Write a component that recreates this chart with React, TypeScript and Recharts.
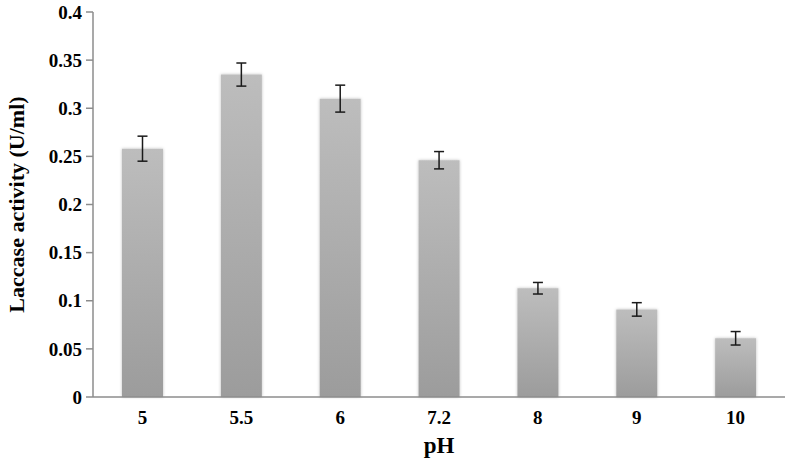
import { BarChart, Bar, XAxis, YAxis, ErrorBar } from "recharts";

const phLabels = ["5", "5.5", "6", "7.2", "8", "9", "10"];
const activity = [0.258, 0.335, 0.31, 0.246, 0.113, 0.091, 0.061];
const errors = [0.013, 0.012, 0.014, 0.009, 0.006, 0.007, 0.007];
const yTicks = [0, 0.05, 0.1, 0.15, 0.2, 0.25, 0.3, 0.35, 0.4];
const boundaryTicks = [0, 1, 2, 3, 4, 5, 6, 7];

const data = phLabels.map((ph, i) => ({ ph, activity: activity[i], err: errors[i] }));

const font = "'Liberation Serif', 'Times New Roman', serif";
const axisGray = "#8c8c8c";

export default function App() {
  return (
    <div style={{ position: "absolute", left: 0, top: 0 }}>
      <BarChart
        width={786}
        height={465}
        data={data}
        margin={{ top: 12, right: 1, left: 0, bottom: 0 }}
        barSize={41}
      >
        <defs>
          <linearGradient id="barFill" x1="0" y1="0" x2="0" y2="1">
            <stop offset="0%" stopColor="#bdbdbd" />
            <stop offset="100%" stopColor="#9c9c9c" />
          </linearGradient>
          <filter id="barShadow" x="-20%" y="-5%" width="140%" height="110%">
            <feDropShadow dx="0" dy="0" stdDeviation="1.5" floodColor="#000" floodOpacity="0.25" />
          </filter>
        </defs>
        <XAxis
          dataKey="ph"
          height={68}
          axisLine={{ stroke: axisGray, strokeWidth: 1.5 }}
          tickLine={false}
          tickMargin={8}
          tick={{ fill: "#000", fontFamily: font, fontWeight: "bold", fontSize: 19 }}
          label={{
            value: "pH",
            position: "insideBottom",
            offset: 12,
            style: { fill: "#000", fontFamily: font, fontWeight: "bold", fontSize: 23 },
          }}
        />
        <XAxis
          xAxisId="edge"
          type="number"
          domain={[0, 7]}
          ticks={boundaryTicks}
          tick={false}
          axisLine={false}
          tickLine={{ stroke: axisGray, strokeWidth: 1.5 }}
          tickSize={7}
          height={0}
        />
        <YAxis
          width={93}
          domain={[0, 0.4]}
          ticks={yTicks}
          axisLine={{ stroke: axisGray, strokeWidth: 1.5 }}
          tickLine={{ stroke: axisGray, strokeWidth: 1.5 }}
          tickSize={7}
          tickMargin={4}
          tick={{ fill: "#000", fontFamily: font, fontWeight: "bold", fontSize: 19 }}
          label={{
            value: "Laccase activity (U/ml)",
            angle: -90,
            position: "insideLeft",
            offset: 16,
            style: { textAnchor: "middle", fill: "#000", fontFamily: font, fontWeight: "bold", fontSize: 22 },
          }}
        />
        <Bar dataKey="activity" fill="url(#barFill)" filter="url(#barShadow)" isAnimationActive={false}>
          <ErrorBar dataKey="err" width={5} stroke="#1a1a1a" strokeWidth={1.5} isAnimationActive={false} />
        </Bar>
      </BarChart>
    </div>
  );
}
